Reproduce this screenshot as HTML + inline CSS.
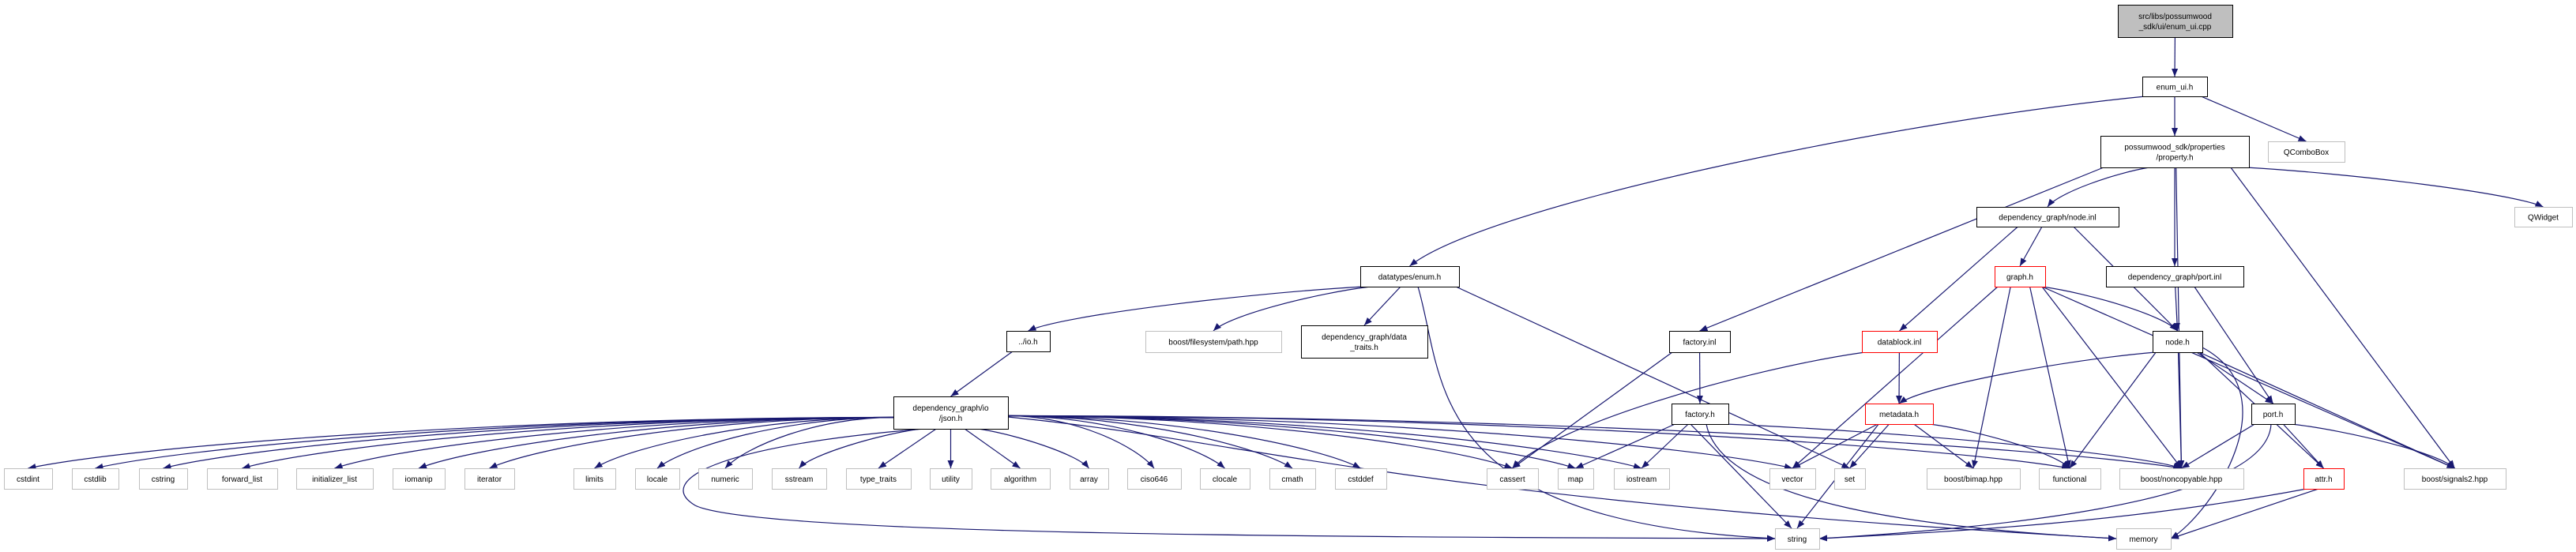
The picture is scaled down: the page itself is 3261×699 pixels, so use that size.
<!DOCTYPE html>
<html><head><meta charset="utf-8"><style>
html,body{margin:0;padding:0;background:#fff}
svg{display:block}
text{font-family:"Liberation Sans",sans-serif;font-size:10px;fill:#000}
</style></head><body>
<svg id="g" width="3261" height="699" viewBox="0 0 3261 699" xmlns="http://www.w3.org/2000/svg">
<defs><marker id="a" markerWidth="10" markerHeight="8" refX="10" refY="4" orient="auto" markerUnits="userSpaceOnUse"><path d="M0,0 L10,4 L0,8 z" fill="#191970"/></marker></defs>
<g id="edges" fill="none" stroke="#191970" stroke-width="1.2"></g>
<g id="nodes"></g>
</svg>
<div style="display:none">
src/libs/possumwood _sdk/ui/enum_ui.cpp enum_ui.h possumwood_sdk/properties /property.h QComboBox dependency_graph/node.inl QWidget datatypes/enum.h graph.h dependency_graph/port.inl ../io.h boost/filesystem/path.hpp dependency_graph/data _traits.h factory.inl datablock.inl node.h dependency_graph/io /json.h factory.h metadata.h port.h cstdint cstdlib cstring forward_list initializer_list iomanip iterator limits locale numeric sstream type_traits utility algorithm array ciso646 clocale cmath cstddef cassert map iostream vector set boost/bimap.hpp functional boost/noncopyable.hpp attr.h boost/signals2.hpp string memory
</div>
<script>
var N={
top:[2681,6,2826,47,"src/libs/possumwood|_sdk/ui/enum_ui.cpp","t"],
enumui:[2712,97,2794,122,"enum_ui.h","b"],
prop:[2659,172,2847,212,"possumwood_sdk/properties|/property.h","b"],
qcombo:[2871,179,2968,205,"QComboBox","x"],
nodeinl:[2502,262,2682,287,"dependency_graph/node.inl","b"],
qwidget:[3183,262,3256,287,"QWidget","x"],
enumh:[1722,337,1847,363,"datatypes/enum.h","b"],
graph:[2525,337,2589,363,"graph.h","r"],
portinl:[2666,337,2840,363,"dependency_graph/port.inl","b"],
io:[1274,419,1329,445,"../io.h","b"],
path:[1450,419,1622,446,"boost/filesystem/path.hpp","x"],
traits:[1647,412,1807,453,"dependency_graph/data|_traits.h","b"],
factinl:[2113,419,2190,446,"factory.inl","b"],
datablock:[2357,419,2452,446,"datablock.inl","r"],
nodeh:[2725,419,2788,446,"node.h","b"],
json:[1131,502,1276,543,"dependency_graph/io|/json.h","b"],
facth:[2116,511,2188,537,"factory.h","b"],
meta:[2361,511,2447,537,"metadata.h","r"],
porth:[2850,511,2905,537,"port.h","b"],
cstdint:[5,593,66,619,"cstdint","x"],
cstdlib:[91,593,150,619,"cstdlib","x"],
cstring:[176,593,237,619,"cstring","x"],
forward_list:[262,593,351,619,"forward_list","x"],
initializer_list:[375,593,472,619,"initializer_list","x"],
iomanip:[497,593,563,619,"iomanip","x"],
iterator:[588,593,651,619,"iterator","x"],
limits:[726,593,779,619,"limits","x"],
locale:[804,593,860,619,"locale","x"],
numeric:[884,593,952,619,"numeric","x"],
sstream:[977,593,1046,619,"sstream","x"],
type_traits:[1071,593,1153,619,"type_traits","x"],
utility:[1177,593,1230,619,"utility","x"],
algorithm:[1254,593,1329,619,"algorithm","x"],
array:[1354,593,1403,619,"array","x"],
ciso646:[1427,593,1495,619,"ciso646","x"],
clocale:[1519,593,1582,619,"clocale","x"],
cmath:[1607,593,1665,619,"cmath","x"],
cstddef:[1690,593,1755,619,"cstddef","x"],
cassert:[1882,593,1947,619,"cassert","x"],
map:[1972,593,2017,619,"map","x"],
iostream:[2043,593,2113,619,"iostream","x"],
vector:[2240,593,2298,619,"vector","x"],
set:[2322,593,2361,619,"set","x"],
bimap:[2439,593,2557,619,"boost/bimap.hpp","x"],
functional:[2581,593,2659,619,"functional","x"],
noncopyable:[2683,593,2840,619,"boost/noncopyable.hpp","x"],
attr:[2916,593,2967,619,"attr.h","r"],
signals2:[3043,593,3172,619,"boost/signals2.hpp","x"],
string:[2247,669,2303,695,"string","x"],
memory:[2679,669,2748,695,"memory","x"]
};
var S={
"json>string":"M1170,543 C900,565 830,610 880,640 C960,680 1800,680 2247,682",
"json>memory":"M1276,528 C1600,560 1760,630 2679,682",
"enumh>string":"M1795,363 C1830,480 1800,660 2247,682",
"facth>memory":"M2160,537 C2180,640 2450,670 2679,682",
"facth>string":"M2140,537 L2268,669",
"attr>string":"M2920,619 C2700,660 2500,672 2303,682",
"attr>memory":"M2935,619 L2748,682",
"nodeh>memory":"M2788,440 C2900,500 2800,650 2748,682",
"porth>string":"M2875,537 C2870,640 2500,670 2303,682"
};
var E="top>enumui enumui>prop enumui>qcombo enumui>enumh prop>nodeinl prop>portinl prop>qwidget prop>factinl prop>noncopyable prop>signals2 nodeinl>graph nodeinl>datablock nodeinl>nodeh graph>nodeh graph>vector graph>bimap graph>functional graph>noncopyable graph>signals2 portinl>nodeh portinl>porth enumh>io enumh>path enumh>traits enumh>string enumh>set io>json factinl>facth factinl>cassert datablock>meta datablock>cassert nodeh>meta nodeh>porth nodeh>attr nodeh>functional nodeh>noncopyable nodeh>signals2 nodeh>memory facth>map facth>iostream facth>string facth>memory facth>noncopyable meta>vector meta>set meta>string meta>bimap meta>functional porth>attr porth>noncopyable porth>signals2 porth>string attr>string attr>memory".split(" ");
"cstdint cstdlib cstring forward_list initializer_list iomanip iterator limits locale numeric sstream type_traits utility algorithm array ciso646 clocale cmath cstddef cassert map iostream vector functional string memory noncopyable".split(" ").forEach(function(t){E.push("json>"+t)});
var ns="http://www.w3.org/2000/svg",eg=document.getElementById("edges"),ng=document.getElementById("nodes");
E.forEach(function(e){
 var p=e.split(">"),s=N[p[0]],t=N[p[1]];
 var tx=(t[0]+t[2])/2,ty=t[1];
 var scx=(s[0]+s[2])/2,dx=tx-scx,dy=ty-s[3];
 var d;
 if(S[e]) d=S[e];
 else if(p[0]=="json" && Math.abs(dx)>4*dy){
  var sx=dx<0?s[0]:s[2],sy=(s[1]+s[3])/2+(dx<0?6:4);
  d="M"+sx+","+sy+" C"+(sx+(tx-sx)*0.45)+","+sy+" "+(tx+(sx-tx)*0.12)+","+(ty-28)+" "+tx+","+ty;
 } else {
  var sx=Math.max(s[0]+4,Math.min(s[2]-4,scx+dx*0.2)),sy=s[3];
  if(Math.abs(dx)>3*dy){
   d="M"+sx+","+sy+" C"+(sx+(tx-sx)*0.35)+","+(sy+dy*0.15)+" "+(tx+(sx-tx)*0.1)+","+(ty-dy*0.35)+" "+tx+","+ty;
  } else d="M"+sx+","+sy+" L"+tx+","+ty;
 }
 var pa=document.createElementNS(ns,"path");
 pa.setAttribute("d",d);
 pa.setAttribute("marker-end","url(#a)");eg.appendChild(pa);
});
for(var k in N){var n=N[k];
 var r=document.createElementNS(ns,"rect");
 r.setAttribute("x",n[0]+0.5);r.setAttribute("y",n[1]+0.5);r.setAttribute("width",n[2]-n[0]);r.setAttribute("height",n[3]-n[1]);
 r.setAttribute("fill",n[5]=="t"?"#bfbfbf":"#fff");
 r.setAttribute("stroke",n[5]=="x"?"#bfbfbf":n[5]=="r"?"#ff0000":"#000");
 ng.appendChild(r);
 var L=n[4].split("|"),cy=(n[1]+n[3])/2;
 L.forEach(function(l,i){var t=document.createElementNS(ns,"text");
  t.setAttribute("x",(n[0]+n[2])/2);t.setAttribute("y",cy+4+(i-(L.length-1)/2)*13);
  t.setAttribute("text-anchor","middle");t.textContent=l;ng.appendChild(t);});
}
</script>
</body></html>
